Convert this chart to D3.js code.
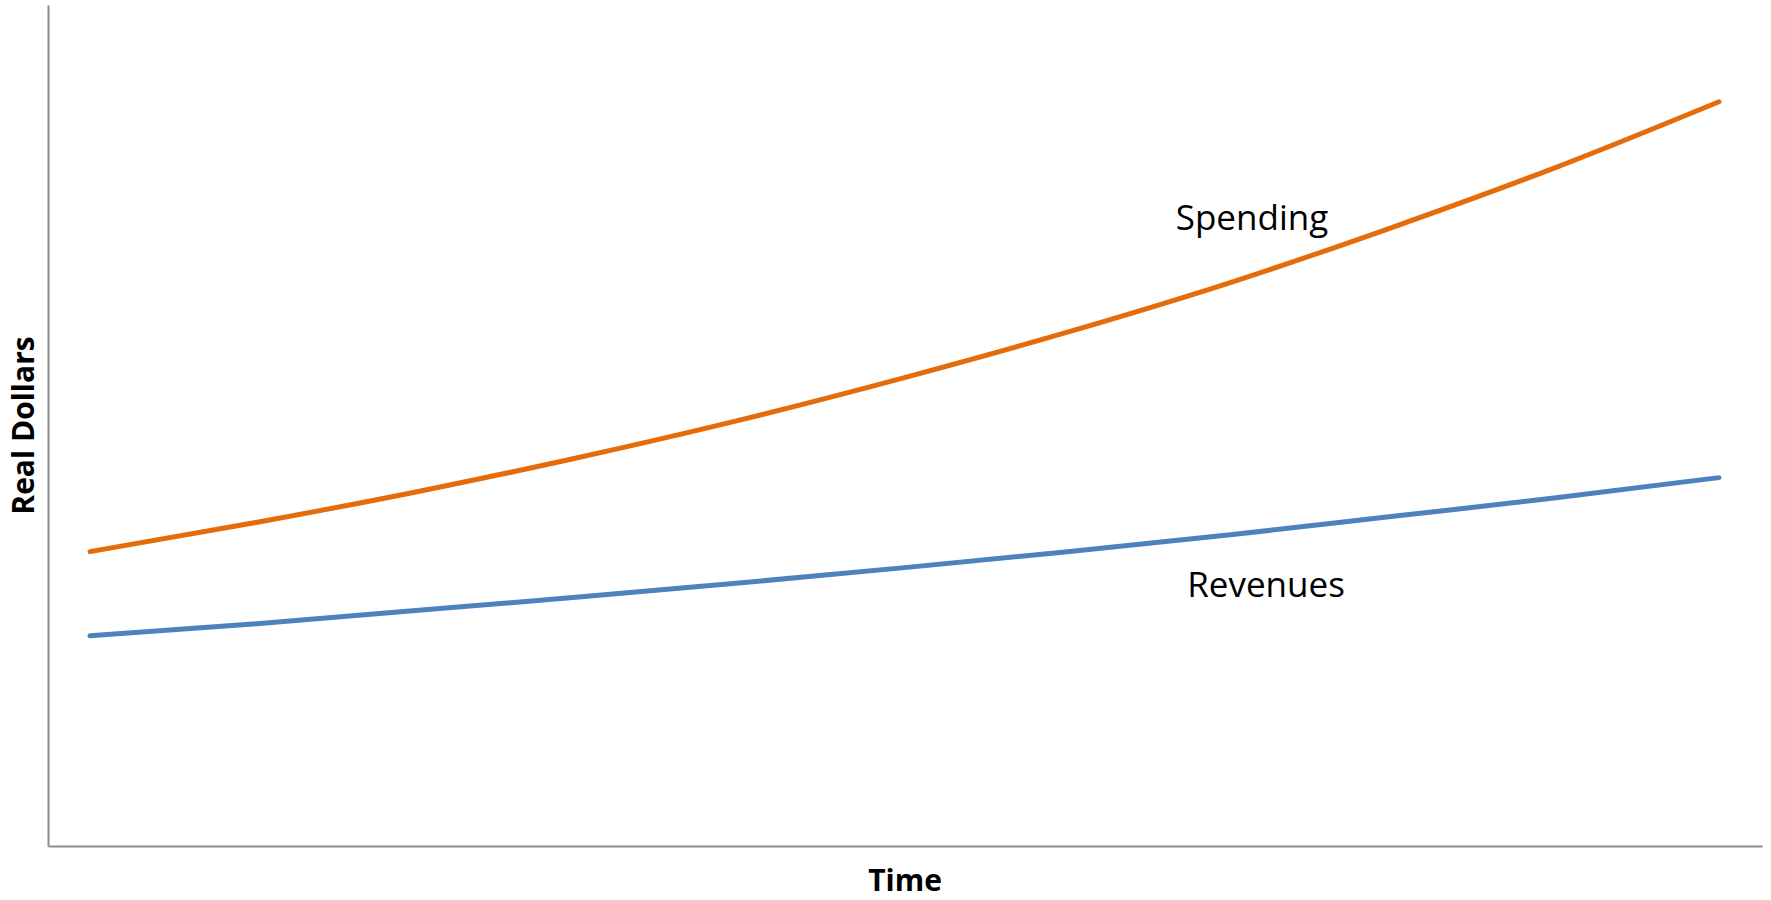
<!DOCTYPE html>
<html>
<head>
<meta charset="utf-8">
<script src="https://cdn.jsdelivr.net/npm/d3@7"></script>
<style>
  html, body { margin: 0; padding: 0; background: #ffffff; }
  svg { display: block; font-family: "Open Sans", "Noto Sans", sans-serif; }
</style>
</head>
<body>
<svg id="chart" width="1771" height="900"></svg>
<script>
// Time periods (unlabelled on the axis)
const periods = [0, 1, 2, 3, 4, 5, 6, 7, 8, 9, 10];
// Real-dollar levels for each period
const spending = [35.0, 38.4, 42.1, 46.2, 50.7, 55.7, 61.1, 67.0, 73.6, 80.7, 88.5];
const revenues = [25.0, 26.4, 28.0, 29.6, 31.3, 33.1, 35.0, 37.0, 39.2, 41.4, 43.8];
const seriesNames = ["Spending", "Revenues"];
const axisTitles = { x: "Time", y: "Real Dollars" };

const svg = d3.select("#chart");
const plot = { left: 48, right: 1762, top: 5, bottom: 846 };
// Pixel span used by the data periods inside the plot
const dataSpan = { start: 90, end: 1719 };
const perStep = (dataSpan.end - dataSpan.start) / (periods[periods.length - 1] - periods[0]);

const x = d3.scaleLinear()
  .domain([
    periods[0] - (dataSpan.start - plot.left) / perStep,
    periods[periods.length - 1] + (plot.right - dataSpan.end) / perStep
  ])
  .range([plot.left, plot.right]);
const y = d3.scaleLinear().domain([0, 100]).range([plot.bottom, plot.top]);

// Axes: plain grey lines with no ticks
const yAxis = d3.axisLeft(y).tickValues([]).tickSizeOuter(0);
const xAxis = d3.axisBottom(x).tickValues([]).tickSizeOuter(0);

svg.append("g")
  .attr("transform", `translate(${plot.left},0)`)
  .call(yAxis)
  .call(g => g.select(".domain").attr("stroke", "#8c8c8c").attr("stroke-width", 2));

svg.append("g")
  .attr("transform", `translate(0,${plot.bottom})`)
  .call(xAxis)
  .call(g => g.select(".domain").attr("stroke", "#8c8c8c").attr("stroke-width", 2));

const line = d3.line()
  .x((d, i) => x(periods[i]))
  .y(d => y(d))
  .curve(d3.curveMonotoneX);

svg.append("path")
  .datum(spending)
  .attr("fill", "none")
  .attr("stroke", "#E46C0A")
  .attr("stroke-width", 5)
  .attr("stroke-linecap", "round")
  .attr("d", line);

svg.append("path")
  .datum(revenues)
  .attr("fill", "none")
  .attr("stroke", "#4F81BD")
  .attr("stroke-width", 5)
  .attr("stroke-linecap", "round")
  .attr("d", line);

// Series labels
svg.append("text")
  .attr("x", 1252).attr("y", 230)
  .attr("text-anchor", "middle")
  .attr("font-size", 35)
  .attr("fill", "#000")
  .text(seriesNames[0]);

svg.append("text")
  .attr("x", 1266).attr("y", 597)
  .attr("text-anchor", "middle")
  .attr("font-size", 35)
  .attr("fill", "#000")
  .text(seriesNames[1]);

// Axis titles
svg.append("text")
  .attr("x", (plot.left + plot.right) / 2).attr("y", 891)
  .attr("text-anchor", "middle")
  .attr("font-size", 30)
  .attr("font-weight", "bold")
  .attr("fill", "#000")
  .text(axisTitles.x);

svg.append("text")
  .attr("transform", `translate(34,${(plot.top + plot.bottom) / 2}) rotate(-90)`)
  .attr("text-anchor", "middle")
  .attr("font-size", 30)
  .attr("font-weight", "bold")
  .attr("fill", "#000")
  .text(axisTitles.y);
</script>
</body>
</html>
